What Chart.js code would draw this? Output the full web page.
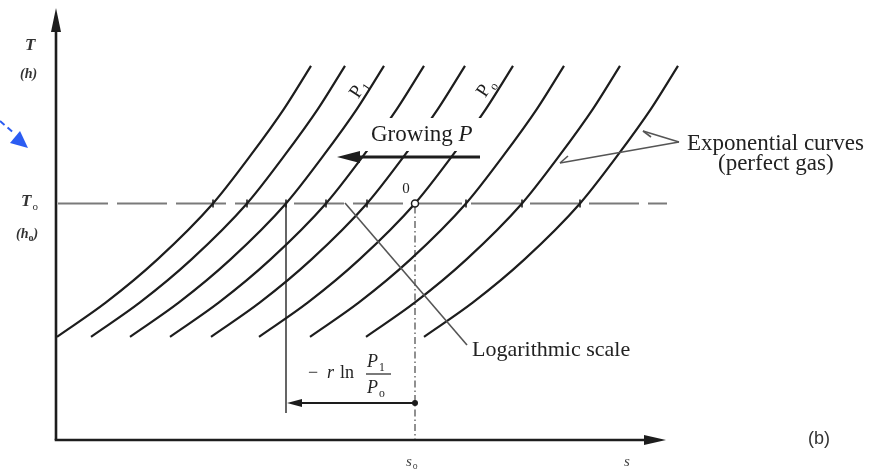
<!DOCTYPE html>
<html lang="en">
<head>
<meta charset="UTF-8">
<title>Isobars on the T-s diagram</title>
<script src="https://cdn.jsdelivr.net/npm/chart.js"></script>
<style>
  body { margin: 0; background: #fff; }
  canvas { display: block; }
</style>
</head>
<body>
<canvas id="tsChart" width="874" height="469"></canvas>
<script>
// one isobar: temperature levels and entropy offset from where it crosses T0
const isobarT = [2.4, 3.2, 4.2, 5.5, 6.6, 7.7, 8.7];
const isobarDs = [-3.12, -2.14, -1.11, 0, 0.74, 1.42, 1.96];
// entropy at the T0 crossing of each isobar (pressure grows to the left)
const crossingS = [3.14, 3.82, 4.6, 5.4, 6.22, 7.18, 8.2, 9.32, 10.48];
const T0 = 5.5;
const p1Index = 2;
const p0Index = 5;
const arrowT = 0.86;     // level of the -r ln(P1/P0) arrow
const s1LineEnd = 0.63;  // where the vertical from P1 stops

const SERIF = '"Liberation Serif", "DejaVu Serif", serif';

function line(ctx, x1, y1, x2, y2) {
    ctx.beginPath();
    ctx.moveTo(x1, y1);
    ctx.lineTo(x2, y2);
    ctx.stroke();
}

function triangle(ctx, pts) {
    ctx.beginPath();
    ctx.moveTo(pts[0][0], pts[0][1]);
    ctx.lineTo(pts[1][0], pts[1][1]);
    ctx.lineTo(pts[2][0], pts[2][1]);
    ctx.closePath();
    ctx.fill();
}

// text with a small subscript after it
function subText(ctx, main, sub, x, y, size, style) {
    ctx.font = `${style} ${size}px ${SERIF}`;
    ctx.fillText(main, x, y);
    const w = ctx.measureText(main).width;
    ctx.font = `${size * 0.65}px ${SERIF}`;
    ctx.fillText(sub, x + w + 1, y + size * 0.22);
    return w + ctx.measureText(sub).width;
}

const overlay = {
    id: 'overlay',
    beforeDatasetsDraw(chart) {
        const { ctx, scales: { x, y } } = chart;
        const yT0 = y.getPixelForValue(T0);
        const xs0 = x.getPixelForValue(crossingS[p0Index]);
        const xs1 = x.getPixelForValue(crossingS[p1Index]);
        ctx.save();
        // T0 level
        ctx.strokeStyle = '#7a7a7a';
        ctx.lineWidth = 2;
        ctx.setLineDash([50, 9]);
        line(ctx, x.left + 2, yT0, 667, yT0);
        // s0 dash-dot drop line
        ctx.strokeStyle = '#555';
        ctx.lineWidth = 1.3;
        ctx.setLineDash([7, 3, 1.5, 3]);
        line(ctx, xs0, yT0 + 3, xs0, y.bottom);
        // vertical from the P1 crossing
        ctx.setLineDash([]);
        ctx.lineWidth = 1.8;
        line(ctx, xs1, yT0, xs1, y.getPixelForValue(s1LineEnd));
        ctx.restore();
    },
    afterDatasetsDraw(chart) {
        const { ctx, scales: { x, y } } = chart;
        const yT0 = y.getPixelForValue(T0);
        const xs0 = x.getPixelForValue(crossingS[p0Index]);
        const xs1 = x.getPixelForValue(crossingS[p1Index]);
        const yA = y.getPixelForValue(arrowT);
        ctx.save();
        ctx.fillStyle = '#1d1d1d';
        ctx.strokeStyle = '#1d1d1d';

        // ticks where each isobar meets T0
        ctx.lineWidth = 1.6;
        crossingS.forEach((s, i) => {
            if (i === p0Index) return;
            const px = x.getPixelForValue(s);
            line(ctx, px, yT0 - 4, px, yT0 + 4);
        });
        // state point 0
        ctx.beginPath();
        ctx.arc(xs0, yT0, 3.5, 0, Math.PI * 2);
        ctx.fillStyle = '#fff';
        ctx.fill();
        ctx.lineWidth = 1.5;
        ctx.stroke();
        ctx.fillStyle = '#1d1d1d';

        // -r ln(P1/P0) arrow
        ctx.beginPath();
        ctx.arc(xs0, yA, 3, 0, Math.PI * 2);
        ctx.fill();
        ctx.lineWidth = 1.8;
        line(ctx, xs0, yA, xs1 + 10, yA);
        triangle(ctx, [[xs1 + 1, yA], [xs1 + 16, yA - 4], [xs1 + 16, yA + 4]]);

        // label area for "Growing P" breaks the isobars
        ctx.fillStyle = '#fff';
        ctx.fillRect(360, 118, 135, 33);
        ctx.fillStyle = '#1d1d1d';

        // Growing P arrow
        ctx.lineWidth = 3;
        line(ctx, 480, 157, 352, 157);
        triangle(ctx, [[337, 157], [360, 151], [360, 163]]);

        ctx.textBaseline = 'alphabetic';
        ctx.textAlign = 'left';
        ctx.font = `23px ${SERIF}`;
        ctx.fillText('Growing ', 371, 141);
        const gw = ctx.measureText('Growing ').width;
        ctx.font = `italic 23px ${SERIF}`;
        ctx.fillText('P', 371 + gw, 141);

        // isobar labels along the curves
        [[358, 87, '1'], [485, 86, 'o']].forEach(([lx, ly, sub]) => {
            ctx.save();
            ctx.translate(lx, ly);
            ctx.rotate(-0.98);
            subText(ctx, 'P', sub, -10, 7, 19, '');
            ctx.restore();
        });

        // leader lines
        ctx.strokeStyle = '#555';
        ctx.lineWidth = 1.6;
        line(ctx, 345, 203, 467, 345);
        line(ctx, 679, 142, 643, 131);
        line(ctx, 679, 142, 560, 163);
        line(ctx, 643, 131, 651, 137);
        line(ctx, 560, 163, 568, 156);

        ctx.fillStyle = '#222';
        ctx.font = `22px ${SERIF}`;
        ctx.fillText('Logarithmic scale', 472, 356);
        ctx.font = `23px ${SERIF}`;
        ctx.fillText('Exponential curves', 687, 150);
        ctx.fillText('(perfect gas)', 718, 170);

        // -r ln P1/P0
        ctx.font = `18px ${SERIF}`;
        ctx.fillText('\u2212', 308, 378);
        ctx.font = `italic 18px ${SERIF}`;
        ctx.fillText('r', 327, 378);
        ctx.font = `18px ${SERIF}`;
        ctx.fillText('ln', 340, 378);
        subText(ctx, 'P', '1', 367, 367, 18, 'italic');
        subText(ctx, 'P', 'o', 367, 393, 18, 'italic');
        ctx.strokeStyle = '#222';
        ctx.lineWidth = 1.2;
        line(ctx, 366, 374, 391, 374);

        ctx.textAlign = 'center';
        ctx.font = `15px ${SERIF}`;
        ctx.fillText('0', 406, 193);

        // axes with arrowheads
        ctx.strokeStyle = '#1d1d1d';
        ctx.fillStyle = '#1d1d1d';
        ctx.lineWidth = 2.6;
        line(ctx, x.left, y.bottom, x.left, 28);
        line(ctx, x.left - 1.3, y.bottom, 650, y.bottom);
        triangle(ctx, [[x.left, 8], [x.left - 5, 32], [x.left + 5, 32]]);
        triangle(ctx, [[666, y.bottom], [644, y.bottom - 5], [644, y.bottom + 5]]);

        // axis labels
        ctx.fillStyle = '#333';
        ctx.textAlign = 'left';
        ctx.font = `bold italic 17px ${SERIF}`;
        ctx.fillText('T', 25, 50);
        ctx.font = `bold italic 14px ${SERIF}`;
        ctx.fillText('(h)', 20, 78);
        subText(ctx, 'T', 'o', 21, 206, 17, 'bold italic');
        ctx.font = `bold italic 14px ${SERIF}`;
        ctx.fillText('(h', 16, 238);
        const hw = ctx.measureText('(h').width;
        ctx.font = `bold 10px ${SERIF}`;
        ctx.fillText('o', 16 + hw, 241);
        const ow = ctx.measureText('o').width;
        ctx.font = `bold italic 14px ${SERIF}`;
        ctx.fillText(')', 16 + hw + ow, 238);

        ctx.fillStyle = '#444';
        subText(ctx, 's', 'o', 406, 466, 15, 'italic');
        ctx.font = `italic 15px ${SERIF}`;
        ctx.fillText('s', 624, 466);

        ctx.fillStyle = '#333';
        ctx.font = '18px "Liberation Sans", Arial, sans-serif';
        ctx.fillText('(b)', 808, 444);

        // blue pointer at the left edge
        ctx.strokeStyle = '#2b5cf2';
        ctx.fillStyle = '#2b5cf2';
        ctx.lineWidth = 2;
        ctx.setLineDash([6, 4]);
        line(ctx, 0, 121, 15, 134);
        ctx.setLineDash([]);
        triangle(ctx, [[28, 148], [10, 143], [20, 131]]);

        ctx.restore();
    }
};

const datasets = crossingS.map(sc => ({
    data: isobarT.map((t, i) => ({ x: sc + isobarDs[i], y: t })),
    showLine: true,
    borderColor: '#1d1d1d',
    borderWidth: 2.2,
    pointRadius: 0,
    cubicInterpolationMode: 'monotone',
    fill: false,
    clip: false
}));

const ctx = document.getElementById('tsChart').getContext('2d');
const tsChart = new Chart(ctx, {
    type: 'scatter',
    data: { datasets },
    options: {
        responsive: false,
        animation: false,
        layout: { padding: { left: 56, right: 209, top: 10, bottom: 29 } },
        scales: {
            x: { type: 'linear', min: 0, max: 12.18, display: false },
            y: { type: 'linear', min: 0, max: 10, display: false }
        },
        plugins: {
            legend: { display: false },
            tooltip: { enabled: false }
        }
    },
    plugins: [overlay]
});
</script>
</body>
</html>
